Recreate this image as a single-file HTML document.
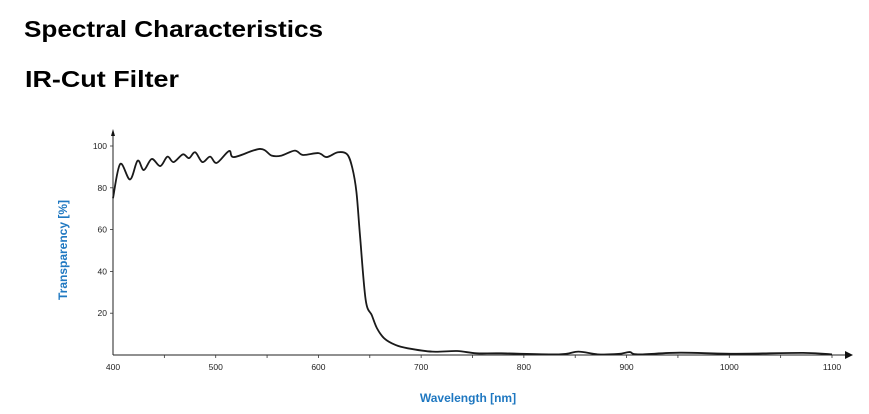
<!DOCTYPE html>
<html><head><meta charset="utf-8"><style>
body{margin:0;background:#fff;}
svg{display:block;font-family:"Liberation Sans",sans-serif;}
</style></head><body>
<svg width="869" height="414" viewBox="0 0 869 414">
<text x="24" y="37" font-size="23" font-weight="bold" textLength="299" lengthAdjust="spacingAndGlyphs">Spectral Characteristics</text>
<text x="25" y="87" font-size="23" font-weight="bold" textLength="154" lengthAdjust="spacingAndGlyphs">IR-Cut Filter</text>
<g id="axes"></g>
<path id="curve" fill="none" stroke="#1a1a1a" stroke-width="1.8" stroke-linejoin="round"/>
<text x="0" y="0" transform="translate(67,250) rotate(-90)" text-anchor="middle" font-size="12" font-weight="bold" fill="#1f78c1">Transparency [%]</text>
<text x="468" y="402" text-anchor="middle" font-size="12" font-weight="bold" fill="#1f78c1">Wavelength [nm]</text>
</svg>
<script>
const wavelengths=[400,407,416.6,424,430,437.7,446,453,459,468,474,480,487,494.5,501,513,518,543,554.5,564,577,585,600,608,619,628,633,637,640.5,646,652,657,664,675,687,711,735,754,778,834,853,872,892,903,911,952,1004,1072,1100];
const transmission=[75,91.4,84,93,88.5,93.8,90.4,94.9,92.3,96,94.2,97,92.3,94.9,91.9,97.6,94.7,98.6,95.4,95.4,97.8,95.7,96.6,94.7,97,96,89.5,78,57,26.4,19,12.8,8,4.8,3.2,1.6,1.9,0.8,0.8,0.3,1.6,0.3,0.5,1.4,0.3,1.1,0.6,1,0.3];
const xTicks=[400,500,600,700,800,900,1000,1100];
const yTicks=[20,40,60,80,100];
const NS="http://www.w3.org/2000/svg";
function xs(v){return 113+(v-400)*(832-113)/700;}
function ys(v){return 355-v*2.09;}
const ax=document.getElementById('axes');
function mk(t,a,p){const e=document.createElementNS(NS,t);for(const k in a)e.setAttribute(k,a[k]);(p||ax).appendChild(e);return e;}
let l=mk('line',{x1:113,y1:355,x2:848,y2:355,stroke:'#222','stroke-width':1});


let a=mk('path',{d:'M853,355 L845,351 L845,359 Z',fill:'#111'});


l=mk('line',{x1:113,y1:355,x2:113,y2:134,stroke:'#222','stroke-width':1});


a=mk('path',{d:'M113,129 L111,136 L115,136 Z',fill:'#111'});


for(let v=450;v<=1100;v+=50){const t=mk('line',{x1:xs(v),y1:355,x2:xs(v),y2:358,stroke:'#333','stroke-width':0.8});

}
xTicks.forEach(v=>{const t=mk('text',{x:xs(v),y:370,'text-anchor':'middle','font-size':8.5,fill:'#222'});t.textContent=v;

});
yTicks.forEach(v=>{const t=mk('text',{x:107,y:ys(v)+3,'text-anchor':'end','font-size':8.5,fill:'#222'});t.textContent=v;


const k=mk('line',{x1:110,y1:ys(v),x2:113,y2:ys(v),stroke:'#333','stroke-width':0.8});

});
const P=wavelengths.map((w,i)=>[xs(w),ys(transmission[i])]);
let d='M'+P[0][0]+','+P[0][1];
for(let i=0;i<P.length-1;i++){const p0=P[Math.max(0,i-1)],p1=P[i],p2=P[i+1],p3=P[Math.min(P.length-1,i+2)];
const c1=[p1[0]+(p2[0]-p0[0])/6,p1[1]+(p2[1]-p0[1])/6],c2=[p2[0]-(p3[0]-p1[0])/6,p2[1]-(p3[1]-p1[1])/6];
d+=` C${c1[0]},${c1[1]} ${c2[0]},${c2[1]} ${p2[0]},${p2[1]}`;}
document.getElementById('curve').setAttribute('d',d);
</script>
</body></html>
